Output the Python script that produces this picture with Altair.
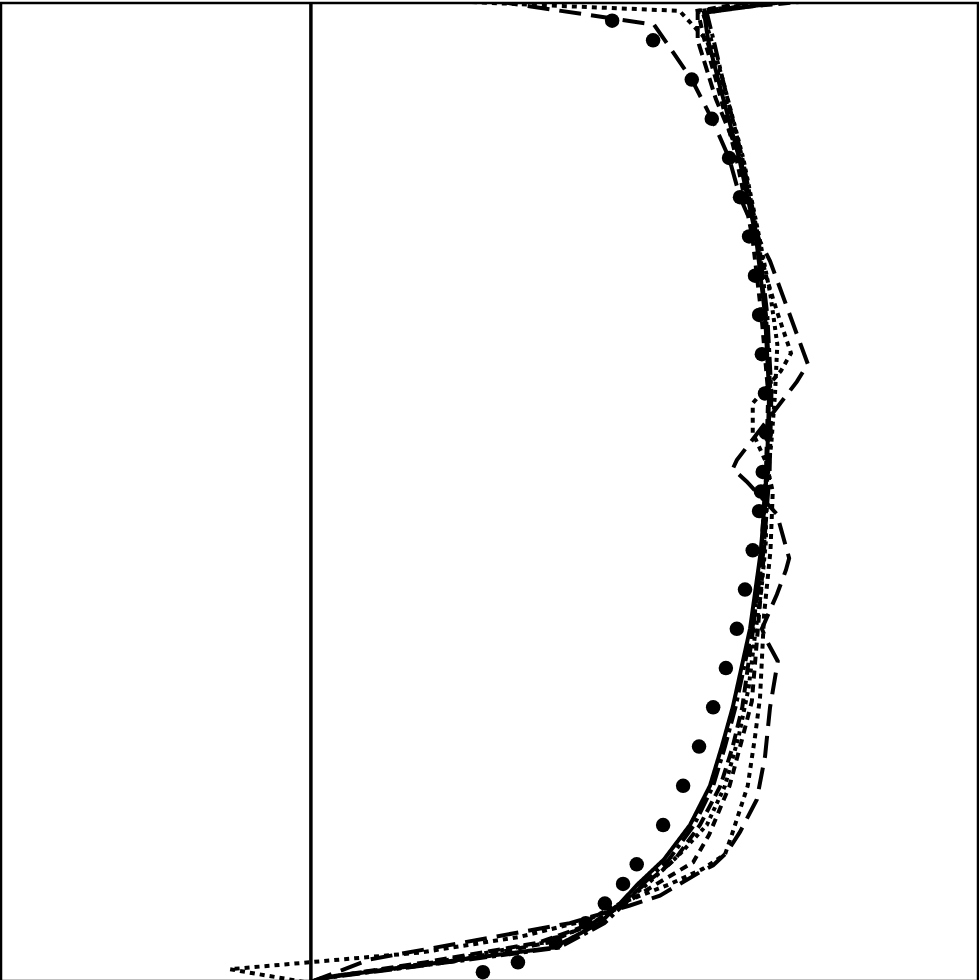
import altair as alt
import pandas as pd

# Reference (DNS-like) points: wall-normal position z and velocity u
dot_z = [0.01, 0.02, 0.04, 0.06, 0.08, 0.10, 0.12, 0.16, 0.20, 0.24, 0.28, 0.32, 0.36, 0.40,
         0.44, 0.48, 0.50, 0.52, 0.56, 0.60, 0.64, 0.68, 0.72, 0.76, 0.80, 0.84, 0.88, 0.92,
         0.96, 0.98]
dot_u = [0.378, 0.455, 0.538, 0.604, 0.646, 0.686, 0.716, 0.774, 0.818, 0.853, 0.884, 0.912,
         0.936, 0.954, 0.971, 0.985, 0.989, 0.993, 1.000, 0.998, 0.991, 0.985, 0.976, 0.963,
         0.943, 0.919, 0.881, 0.837, 0.752, 0.662]

# Model profiles
z1 = [0, 0.004, 0.02, 0.035, 0.06, 0.08, 0.10, 0.125, 0.16, 0.20, 0.24, 0.28, 0.36, 0.44,
      0.52, 0.60, 0.68, 0.76, 0.84, 0.92, 0.96, 0.988, 1.0]
u1 = [0, 0.024, 0.284, 0.532, 0.635, 0.679, 0.719, 0.776, 0.833, 0.877, 0.903, 0.927, 0.965,
      0.989, 1.002, 1.007, 0.998, 0.978, 0.941, 0.895, 0.873, 0.864, 1.053]

z2 = [0, 0.004, 0.02, 0.035, 0.06, 0.08, 0.10, 0.125, 0.16, 0.20, 0.24, 0.28, 0.36, 0.44,
      0.52, 0.60, 0.68, 0.76, 0.84, 0.92, 0.96, 0.988, 1.0]
u2 = [0, 0.03, 0.3, 0.545, 0.645, 0.69, 0.73, 0.787, 0.842, 0.884, 0.91, 0.933, 0.97, 0.995,
      1.008, 1.012, 1.003, 0.983, 0.948, 0.905, 0.885, 0.87, 1.0]

z3 = [0, 0.005, 0.02, 0.04, 0.06, 0.08, 0.10, 0.125, 0.16, 0.20, 0.24, 0.28, 0.32, 0.36, 0.44,
      0.52, 0.60, 0.68, 0.76, 0.84, 0.90, 0.96, 0.99, 1.0]
u3 = [0, 0.04, 0.25, 0.5, 0.62, 0.68, 0.735, 0.8, 0.855, 0.9, 0.927, 0.948, 0.96, 0.972, 0.99,
      1.0, 1.01, 1.0, 0.98, 0.944, 0.89, 0.85, 0.85, 1.1]

z4 = [0, 0.013, 0.03, 0.046, 0.063, 0.08, 0.10, 0.115, 0.13, 0.15, 0.20, 0.25, 0.29, 0.375,
      0.44, 0.50, 0.53, 0.56, 0.59, 0.623, 0.641, 0.684, 0.72, 0.76, 0.84, 0.92, 0.96, 0.99,
      0.995, 1.0]
u4 = [-0.015, -0.178, 0.24, 0.459, 0.607, 0.68, 0.79, 0.86, 0.91, 0.925, 0.96, 0.976, 0.987,
      0.996, 1.01, 1.015, 1.0, 0.971, 0.971, 1.033, 1.055, 1.024, 1.0, 0.98, 0.945, 0.9, 0.87,
      0.81, 0.55, 0.3]

z5 = [0, 0.006, 0.02, 0.04, 0.06, 0.08, 0.10, 0.122, 0.15, 0.20, 0.25, 0.286, 0.375, 0.44,
      0.52, 0.60, 0.68, 0.76, 0.84, 0.92, 0.96, 0.99, 1.0]
u5 = [0, 0.05, 0.3, 0.52, 0.62, 0.69, 0.76, 0.84, 0.875, 0.92, 0.949, 0.969, 0.985, 0.996,
      1.0, 1.005, 0.99, 0.97, 0.935, 0.89, 0.865, 0.85, 0.98]

z6 = [0, 0.023, 0.06, 0.078, 0.088, 0.112, 0.119, 0.132, 0.153, 0.186, 0.23, 0.28, 0.327,
      0.345, 0.36, 0.395, 0.42, 0.432, 0.477, 0.51, 0.523, 0.532, 0.612, 0.63, 0.735, 0.765,
      0.80, 0.84, 0.88, 0.92, 0.976, 1.005]
u6 = [0, 0.13, 0.569, 0.701, 0.767, 0.855, 0.884, 0.914, 0.943, 0.98, 0.998, 1.009, 1.026,
      1.005, 0.991, 1.024, 1.044, 1.051, 1.024, 0.958, 0.927, 0.936, 1.068, 1.092, 1.009,
      0.976, 0.943, 0.919, 0.881, 0.837, 0.754, 0.33]

z7 = [0, 0.005, 0.02, 0.04, 0.06, 0.08, 0.10, 0.13, 0.16, 0.20, 0.25, 0.30, 0.35, 0.40, 0.45,
      0.50, 0.55, 0.60, 0.65, 0.70, 0.76, 0.84, 0.92, 0.96, 0.99, 1.0]
u7 = [0, 0.035, 0.27, 0.51, 0.625, 0.685, 0.74, 0.81, 0.87, 0.91, 0.94, 0.962, 0.975, 0.99,
      1.0, 1.0, 1.012, 1.02, 1.025, 1.01, 0.985, 0.95, 0.905, 0.88, 0.86, 1.02]

series = ["s1", "s2", "s3", "s4", "s5", "s6", "s7"]
dashes = [[1, 0], [18, 5, 4, 5], [12, 6], [5, 5], [8, 6], [22, 10], [4, 4]]
profiles = [(z1, u1), (z2, u2), (z3, u3), (z4, u4), (z5, u5), (z6, u6), (z7, u7)]

rows = []
for name, (zs, us) in zip(series, profiles):
    for i, (zz, uu) in enumerate(zip(zs, us)):
        rows.append({"series": name, "z": zz, "u": uu, "idx": i})
lines_df = pd.DataFrame(rows)
dots_df = pd.DataFrame({"z": dot_z, "u": dot_u})
zero_df = pd.DataFrame({"u": [0]})

xs = alt.Scale(domain=[-0.681, 1.466], nice=False, zero=False)
ys = alt.Scale(domain=[0.001, 0.998], nice=False, zero=False)

lines = alt.Chart(lines_df).mark_line(clip=True, color="black").encode(
    x=alt.X("u:Q", scale=xs, axis=None),
    y=alt.Y("z:Q", scale=ys, axis=None),
    detail="series:N",
    strokeDash=alt.StrokeDash("series:N", scale=alt.Scale(domain=series, range=dashes),
                              legend=None),
    strokeWidth=alt.value(4),
    order="idx:Q",
)

zero = alt.Chart(zero_df).mark_rule(color="black").encode(
    x=alt.X("u:Q", scale=xs, axis=None),
    strokeWidth=alt.value(3.5),
)

dots = alt.Chart(dots_df).mark_circle(size=210, color="black", opacity=1, clip=True).encode(
    x=alt.X("u:Q", scale=xs, axis=None),
    y=alt.Y("z:Q", scale=ys, axis=None),
)

chart = alt.layer(zero, lines, dots).properties(
    width=977, height=978, padding=1
).configure_view(stroke="black", strokeWidth=2.5)

chart.save("out.html", embed_options={"renderer": "svg", "actions": False})
